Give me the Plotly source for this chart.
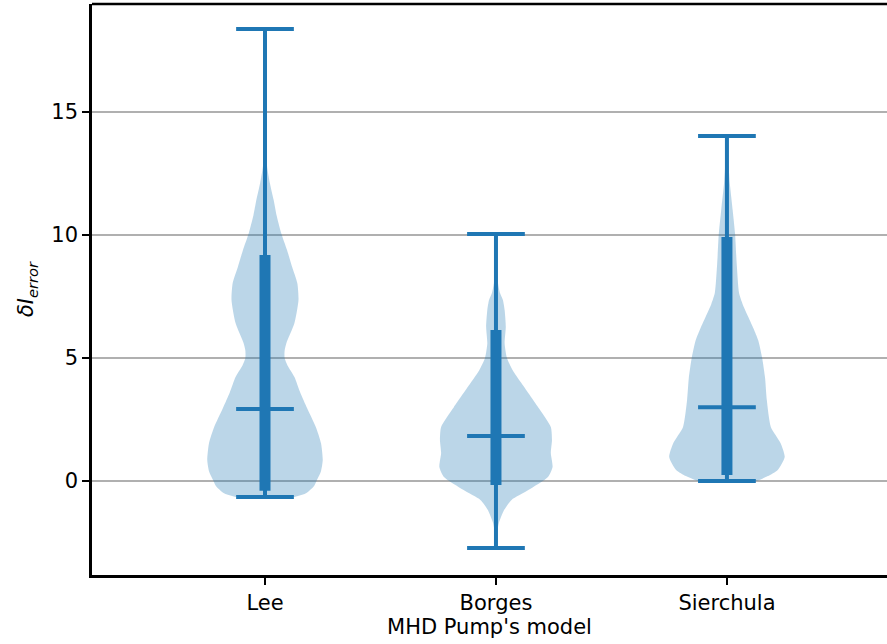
import plotly.graph_objects as go

# Models and summary statistics of the current error per model
models = ["Lee", "Borges", "Sierchula"]
positions = [1, 2, 3]
mins = [-0.65, -2.72, 0.0]
maxs = [18.37, 10.04, 14.02]
medians = [2.93, 1.83, 3.0]
bar_lo = [-0.4, -0.16, 0.24]
bar_hi = [9.19, 6.14, 9.92]

# Kernel density profiles: value grid and relative density (1 = widest point)
lee_y = [-0.65, -0.5, -0.2, 0.04, 0.4, 0.85, 1.54, 2.2, 2.96, 3.6, 4.23, 4.7, 5.0,
         5.3, 5.6, 6.42, 7.36, 8.04, 8.7, 9.4, 10.08, 10.8, 11.42, 12.1, 12.8, 14.0,
         16.0, 18.37]
lee_d = [0.51, 0.71, 0.85, 0.90, 0.97, 1.0, 0.97, 0.88, 0.73, 0.61, 0.51, 0.39, 0.34,
         0.34, 0.37, 0.51, 0.58, 0.56, 0.47, 0.38, 0.28, 0.2, 0.15, 0.085, 0.035, 0.01,
         0.005, 0.0]

borges_y = [-2.72, -2.11, -1.71, -1.18, -0.77, -0.37, 0.16, 0.57, 1.14, 1.67, 2.2, 3.0,
            3.98, 4.5, 5.0, 5.6, 6.26, 6.95, 7.36, 7.64, 8.05, 9.0, 10.04]
borges_d = [0.0, 0.02, 0.05, 0.14, 0.27, 0.56, 0.9, 0.98, 0.95, 0.97, 0.95, 0.73,
            0.44, 0.29, 0.19, 0.15, 0.17, 0.15, 0.12, 0.07, 0.035, 0.01, 0.0]

sierchula_y = [0.0, 0.2, 0.45, 0.98, 1.54, 2.2, 3.3, 4.2, 5.0, 5.73, 6.2, 6.67, 7.2,
               7.64, 8.8, 10.07, 11.0, 12.1, 13.0, 14.02]
sierchula_d = [0.51, 0.71, 0.88, 1.0, 0.93, 0.76, 0.69, 0.66, 0.61, 0.54, 0.46, 0.37,
               0.27, 0.21, 0.17, 0.14, 0.1, 0.05, 0.025, 0.0]

profiles = [(lee_y, lee_d), (borges_y, borges_d), (sierchula_y, sierchula_d)]

BLUE = "#1f77b4"
FILL = "rgba(31,119,180,0.3)"
HALF_WIDTH = 0.25
CAP_HALF = 0.125
FONT_SIZE = 21

fig = go.Figure()

# Violin bodies
for pos, (ys, ds) in zip(positions, profiles):
    xs = [pos + HALF_WIDTH * d for d in ds] + [pos - HALF_WIDTH * d for d in reversed(ds)]
    yy = list(ys) + list(reversed(ys))
    fig.add_trace(go.Scatter(x=xs, y=yy, fill="toself", fillcolor=FILL,
                             mode="lines", line=dict(width=0, shape="spline", smoothing=0.6),
                             hoverinfo="skip", showlegend=False))

# Min-max extent lines
for pos, lo, hi in zip(positions, mins, maxs):
    fig.add_trace(go.Scatter(x=[pos, pos], y=[lo, hi], mode="lines",
                             line=dict(color=BLUE, width=4), showlegend=False))

# Thick inner bars
for pos, lo, hi in zip(positions, bar_lo, bar_hi):
    fig.add_trace(go.Scatter(x=[pos, pos], y=[lo, hi], mode="lines",
                             line=dict(color=BLUE, width=11), showlegend=False))

# Caps at min, max and median
for pos, lo, hi, med in zip(positions, mins, maxs, medians):
    for v in (lo, hi, med):
        fig.add_trace(go.Scatter(x=[pos - CAP_HALF, pos + CAP_HALF], y=[v, v], mode="lines",
                                 line=dict(color=BLUE, width=4), showlegend=False))

# Top frame line
fig.add_shape(type="line", xref="paper", yref="paper", x0=0, x1=1, y0=1, y1=1,
              line=dict(color="black", width=2.5))

fig.update_layout(
    width=887, height=644,
    margin=dict(l=92, r=0, t=4, b=69),
    plot_bgcolor="white", paper_bgcolor="white",
    font=dict(family="DejaVu Sans", size=FONT_SIZE, color="black"),
    showlegend=False,
)
fig.update_xaxes(
    range=[0.251, 3.693], tickvals=positions, ticktext=models,
    tickfont=dict(size=FONT_SIZE),
    showgrid=False, zeroline=False,
    showline=True, linecolor="black", linewidth=2.5,
    ticks="outside", ticklen=7, tickwidth=2, tickcolor="black",
    title=dict(text="MHD Pump's model", standoff=2, font=dict(size=FONT_SIZE)),
)
fig.update_yaxes(
    range=[-3.82, 19.39], tickvals=[0, 5, 10, 15],
    tickfont=dict(size=FONT_SIZE),
    showgrid=True, gridcolor="#b0b0b0", gridwidth=2, zeroline=False,
    showline=True, linecolor="black", linewidth=2.5,
    ticks="outside", ticklen=7, tickwidth=2, tickcolor="black",
    title=dict(text="<i>δI</i><sub><i>error</i></sub>", standoff=12,
               font=dict(size=FONT_SIZE)),
)

fig.write_html("out.html")
